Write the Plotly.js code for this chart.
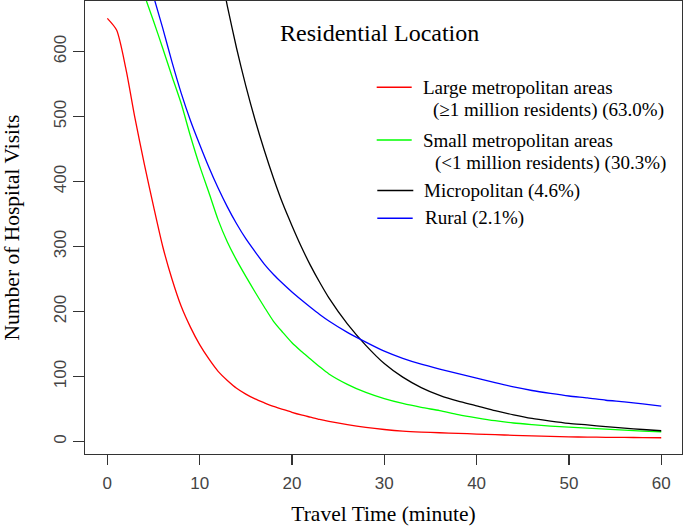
<!DOCTYPE html>
<html>
<head>
<meta charset="utf-8">
<script src="https://cdn.plot.ly/plotly-3.0.1.min.js"></script>
<style>html,body{margin:0;padding:0;background:#fff;}#chart{width:685px;height:527px;}</style>
</head>
<body>
<div id="chart"></div>
<script>
// ---- data ----
const travelTime = [0,1,2,3,4,5,6,7,8,9,10,11,12,13,14,15,16,17,18,19,20,21,22,23,24,26,28,30,32,34,36,38,40,42,44,46,48,50,52,54,56,58,60];
const largeMetro = [651,633,574,497,427,362,300,250,208,176,149,127,108,94,82,73,65.5,59.5,54,49.5,45,41,37.5,34,31,26,21.8,18.5,16,14.5,13.5,12.5,11.5,10.5,9.5,8.6,7.8,7.2,6.8,6.5,6.3,6,5.8];
const smallMetro = [null,null,null,null,687,647,605,562,520,470,424,383,341,307,279,254,230,207,185,168,152,139,127,115,104,88,75.5,66,58.5,52.5,47.5,41.5,36.5,32,28.5,26,23.8,22,20.5,19,17.5,16,15];
const micropolitan = [null,null,null,null,null,null,null,null,null,null,null,null,740,670,605,547,495,448,405,366,332,300,271,245,221,181,148,120,99,83,71,62,55,47.5,41,35.5,31.5,28,25.5,22.8,20.5,18.5,16.6];
const rural = [null,null,null,null,null,685,636,584,536,494,457,422,390,361,335,312,292,273,257,243,230,218,206.5,195.5,185.5,168,153,139,128,119,111.5,104.5,97.5,90.5,84,78.5,74,70,67,63.5,61,58,54.6];

const seriesNames = ["Large metropolitan areas", "Small metropolitan areas", "Micropolitan (4.6%)", "Rural (2.1%)"];
const seriesSub = ["(\u22651 million residents) (63.0%)", "(<1 million residents) (30.3%)", null, null];
const seriesColors = ["#ff0000", "#00ff00", "#000000", "#0000ff"];
const seriesValues = [largeMetro, smallMetro, micropolitan, rural];
const legendTitle = "Residential Location";
const xTicks = [0,10,20,30,40,50,60];
const yTicks = [0,100,200,300,400,500,600];

// ---- layout helpers (pixel -> paper) ----
const L = 85, R = 682, T = 1, B = 454;
const px = x => (x - L) / (R - L);
const py = y => (B - y) / (B - T);

const traces = seriesValues.map((v, i) => ({
  x: travelTime, y: v, type: 'scatter', mode: 'lines', name: seriesNames[i],
  line: {color: seriesColors[i], width: 1.3, shape: 'spline', smoothing: 0.7},
  showlegend: false, hoverinfo: 'skip'
}));

const serif = "Liberation Serif, Times New Roman, serif";
const annotations = [];
const shapes = [];
annotations.push({xref:'paper', yref:'paper', x:px(277.5), y:py(33), xanchor:'left', yanchor:'middle',
  text: legendTitle, showarrow:false, font:{family:serif, size:24, color:'#000'}});

const entryY = [87.3, 140, 190.5, 218.3];
const subY = [110, 163.3];
const textX = [420.5, 421, 422, 423];
const subX = [431, 432.5];
const lineX0 = [376.7, 376.7, 377.3, 377.3];
const lineX1 = [411.7, 411.7, 413.3, 412.7];
seriesNames.forEach((n, i) => {
  shapes.push({type:'line', xref:'paper', yref:'paper', x0:px(lineX0[i]), x1:px(lineX1[i]), y0:py(entryY[i]), y1:py(entryY[i]),
    line:{color:seriesColors[i], width:1.4}});
  annotations.push({xref:'paper', yref:'paper', x:px(textX[i]), y:py(entryY[i]), xanchor:'left', yanchor:'middle',
    text:n, showarrow:false, font:{family:serif, size:19, color:'#000'}});
  if (seriesSub[i]) {
    annotations.push({xref:'paper', yref:'paper', x:px(subX[i]), y:py(subY[i]), xanchor:'left', yanchor:'middle',
      text:seriesSub[i], showarrow:false, font:{family:serif, size:19, color:'#000'}});
  }
});

const layout = {
  width: 685, height: 527,
  margin: {l: L, r: 685 - R, t: T, b: 527 - B, pad: 0},
  paper_bgcolor: '#fff', plot_bgcolor: '#fff',
  xaxis: {
    range: [-2.42, 62.25], tickvals: xTicks, ticktext: xTicks.map(String),
    ticks: 'outside', ticklen: 10, tickwidth: 1.3, tickcolor: '#333',
    showline: true, mirror: true, linecolor: '#333', linewidth: 1.3,
    showgrid: false, zeroline: false, automargin: false, ticklabelstandoff: 3,
    tickfont: {family: 'Liberation Sans, Arial, sans-serif', size: 17, color: '#444'},
    title: {text: 'Travel Time (minute)', font: {family: serif, size: 21.5, color: '#000'}, standoff: 14}
  },
  yaxis: {
    range: [-19.2, 677.7], tickvals: yTicks, ticktext: yTicks.map(String), tickangle: -90,
    ticks: 'outside', ticklen: 11, tickwidth: 1.3, tickcolor: '#333',
    showline: true, mirror: true, linecolor: '#333', linewidth: 1.3,
    showgrid: false, zeroline: false, automargin: false,
    tickfont: {family: 'Liberation Sans, Arial, sans-serif', size: 17, color: '#444'},
    title: {text: 'Number of Hospital Visits', font: {family: serif, size: 21.5, color: '#000'}, standoff: 27}
  },
  annotations: annotations,
  shapes: shapes
};

Plotly.newPlot('chart', traces, layout, {displayModeBar: false, staticPlot: true});
</script>
</body>
</html>
